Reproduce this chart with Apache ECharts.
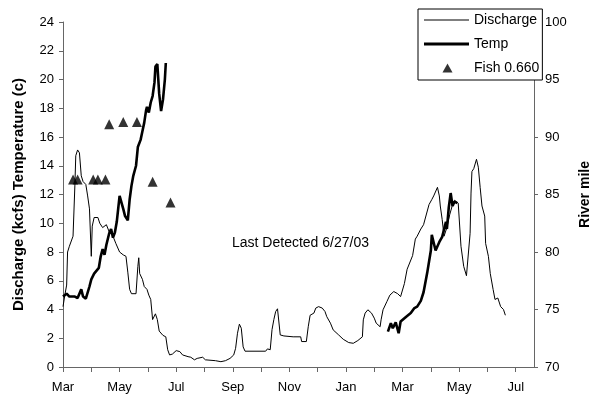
<!DOCTYPE html>
<html><head><meta charset="utf-8">
<script src="https://cdn.jsdelivr.net/npm/echarts@6/dist/echarts.min.js"></script>
<style>html,body{margin:0;padding:0;background:#fff}#c{width:600px;height:400px}</style>
</head><body><div id="c"></div>
<script>
const xTickLabels = ['Mar','May','Jul','Sep','Nov','Jan','Mar','May','Jul'];
const axisStart = '2003-03-01';
const axisEnd = '2004-07-21';

const dischargeDates = [
 '2003-03-01','2003-03-03','2003-03-05','2003-03-06','2003-03-08','2003-03-12','2003-03-14','2003-03-15','2003-03-17','2003-03-19','2003-03-21','2003-03-23','2003-03-26','2003-03-28','2003-03-30',
 '2003-04-01','2003-04-02','2003-04-04','2003-04-08','2003-04-10','2003-04-13','2003-04-17','2003-04-20','2003-04-24','2003-04-27',
 '2003-05-01','2003-05-05','2003-05-08','2003-05-10','2003-05-12','2003-05-14','2003-05-19','2003-05-21','2003-05-22','2003-05-23','2003-05-26','2003-05-28','2003-05-31',
 '2003-06-02','2003-06-04','2003-06-06','2003-06-08','2003-06-09','2003-06-11','2003-06-13','2003-06-17','2003-06-20','2003-06-22','2003-06-24','2003-06-27',
 '2003-07-01','2003-07-05','2003-07-08','2003-07-14','2003-07-17','2003-07-21','2003-07-24','2003-07-30',
 '2003-08-02','2003-08-13','2003-08-19','2003-08-24','2003-08-29',
 '2003-09-02','2003-09-04','2003-09-06','2003-09-08','2003-09-10','2003-09-12','2003-09-14',
 '2003-10-06','2003-10-08','2003-10-11','2003-10-13','2003-10-15','2003-10-17','2003-10-19','2003-10-21','2003-10-22','2003-10-26',
 '2003-11-05','2003-11-13','2003-11-14','2003-11-19','2003-11-21','2003-11-23','2003-11-27','2003-11-29',
 '2003-12-02','2003-12-04','2003-12-06','2003-12-09','2003-12-11','2003-12-15','2003-12-18','2003-12-24','2003-12-29',
 '2004-01-04','2004-01-09','2004-01-14','2004-01-19','2004-01-20','2004-01-22','2004-01-25','2004-01-29',
 '2004-02-01','2004-02-03','2004-02-07','2004-02-08','2004-02-10','2004-02-14','2004-02-17','2004-02-21','2004-02-25','2004-02-28',
 '2004-03-03','2004-03-06','2004-03-12','2004-03-15','2004-03-17','2004-03-21','2004-03-24','2004-03-26','2004-03-30',
 '2004-04-02','2004-04-04','2004-04-08','2004-04-10','2004-04-11','2004-04-13','2004-04-15','2004-04-18','2004-04-21','2004-04-24','2004-04-26','2004-04-30',
 '2004-05-03','2004-05-06','2004-05-09','2004-05-11','2004-05-13','2004-05-14','2004-05-15','2004-05-17','2004-05-20','2004-05-22','2004-05-24','2004-05-26','2004-05-29','2004-05-30',
 '2004-06-02','2004-06-04','2004-06-07','2004-06-09','2004-06-12','2004-06-15','2004-06-18','2004-06-20'
];
const dischargeValues = [
 4.2,5.0,5.7,8.0,8.4,9.1,12.6,14.7,15.1,14.9,13.3,12.9,12.7,11.9,11.0,
 7.7,9.8,10.4,10.4,10.0,9.7,9.9,9.4,9.1,8.6,
 8.0,7.8,7.7,6.6,5.4,5.1,5.1,7.0,7.6,6.5,6.1,5.6,5.4,
 5.0,4.7,3.3,3.2,3.7,3.3,2.5,2.2,2.1,1.2,0.84,0.9,
 1.14,1.07,0.84,0.72,0.68,0.5,0.6,0.68,
 0.5,0.44,0.37,0.44,0.6,
 0.84,1.3,2.35,2.98,2.7,1.4,1.1,
 1.1,1.26,1.2,2.6,3.3,3.86,4.05,4.05,2.23,2.16,
 2.1,2.1,1.77,1.77,2.8,3.6,3.75,4.1,
 4.2,4.3,4.1,3.86,3.5,3.05,2.58,2.23,1.93,
 1.7,1.65,1.84,2.1,3.28,3.75,3.98,3.75,
 3.4,3.05,2.8,3.28,3.98,4.56,5.0,5.25,5.1,4.9,
 5.8,6.8,7.75,8.9,9.1,9.6,9.9,10.0,11.3,
 11.65,11.9,12.5,11.9,11.2,10.26,9.1,9.7,10.6,11.3,11.6,11.4,
 8.4,7.0,6.35,6.4,9.3,12.1,13.6,13.8,14.45,13.9,12.5,11.2,10.5,8.6,
 7.7,6.5,5.4,4.7,4.8,4.2,4.0,3.6
];

const temp2003Dates = [
 '2003-03-01','2003-03-05','2003-03-08','2003-03-14','2003-03-17','2003-03-21','2003-03-23','2003-03-26','2003-03-30',
 '2003-04-01','2003-04-04','2003-04-09','2003-04-11','2003-04-13','2003-04-15','2003-04-17','2003-04-20','2003-04-22','2003-04-24','2003-04-26','2003-04-28',
 '2003-05-01','2003-05-03','2003-05-05','2003-05-07','2003-05-10','2003-05-12','2003-05-14','2003-05-16','2003-05-19','2003-05-21','2003-05-24','2003-05-26','2003-05-28','2003-05-30','2003-05-31',
 '2003-06-02','2003-06-04','2003-06-06','2003-06-08','2003-06-09','2003-06-11','2003-06-13','2003-06-15','2003-06-17','2003-06-19','2003-06-20'
];
const temp2003Values = [
 4.9,5.1,4.9,4.9,4.8,5.4,4.9,4.75,5.6,
 6.1,6.5,6.9,7.7,8.2,7.8,8.5,9.3,9.6,9.0,9.35,10.1,
 11.9,11.9,11.0,10.5,10.2,11.65,12.6,13.3,14.0,15.3,15.8,16.4,17.0,17.85,18.1,
 17.7,18.4,18.85,19.8,20.9,21.07,19.0,17.8,18.6,20.0,21.15
];
const temp2004Dates = [
 '2004-02-15','2004-02-18','2004-02-20','2004-02-23','2004-02-26','2004-02-28',
 '2004-03-05','2004-03-10','2004-03-14','2004-03-17','2004-03-21','2004-03-24','2004-03-28',
 '2004-04-01','2004-04-02','2004-04-06','2004-04-10','2004-04-13','2004-04-17','2004-04-18','2004-04-20','2004-04-22','2004-04-24','2004-04-26','2004-04-29'
];
const temp2004Values = [
 2.46,3.05,2.7,3.1,2.35,3.16,
 3.5,3.75,4.1,4.2,4.6,5.2,6.55,
 8.1,9.2,8.1,8.7,9.05,10.1,9.6,11.1,12.1,11.2,11.5,11.4
];

const fishDates = ['2003-03-12','2003-03-17','2003-04-03','2003-04-08','2003-04-16','2003-04-20','2003-05-05','2003-05-20','2003-06-06','2003-06-25'];
const fishRiverMile = [86.3,86.3,86.3,86.3,86.3,91.1,91.3,91.3,86.1,84.3];

function monthIndex(s){
  const p = s.split('-').map(Number);
  const dim = new Date(p[0], p[1], 0).getDate();
  return (p[0]-2003)*12 + (p[1]-3) + (p[2]-1)/dim;
}
function pairs(dates, vals){ return dates.map((d,i)=>[monthIndex(d), vals[i]]); }

const FONT = 'Liberation Sans';
const thinIcon = 'path://M0,0M45,14M0,6.5L45,6.5L45,7.5L0,7.5Z';
const thickIcon = 'path://M0,0M45,14M0,5.6L45,5.6L45,8.4L0,8.4Z';
const triIcon = 'path://M0,0M45,14M18.5,11.5L23.5,2.5L28.5,11.5Z';

const chart = echarts.init(document.getElementById('c'), null, {renderer:'canvas'});
chart.setOption({
  animation:false,
  backgroundColor:'#fff',
  textStyle:{fontFamily:FONT},
  grid:{left:63,right:65,top:22,bottom:33},
  legend:{
    orient:'vertical', left:418, top:9,
    itemWidth:45, itemHeight:14, itemGap:10,
    padding:[4,3,5,6],
    symbolKeepAspect:true,
    borderColor:'#000', borderWidth:1, backgroundColor:'#fff',
    itemStyle:{borderWidth:0},
    textStyle:{fontFamily:FONT,fontSize:14,color:'#000'},
    data:[
      {name:'Discharge',icon:thinIcon},
      {name:'Temp',icon:thickIcon},
      {name:'Fish 0.660',icon:triIcon}
    ]
  },
  xAxis:{
    type:'value', min:monthIndex(axisStart), max:monthIndex(axisEnd), interval:1,
    axisLine:{show:true,onZero:false,lineStyle:{color:'#666',width:1}},
    axisTick:{show:true,length:5,lineStyle:{color:'#666'}},
    splitLine:{show:false},
    axisLabel:{
      color:'#000',fontSize:13,fontFamily:FONT,margin:14,showMaxLabel:false,
      formatter:function(v){
        const r = Math.round(v);
        if (Math.abs(v-r)>1e-6 || r%2!==0) return '';
        return xTickLabels[r/2] || '';
      }
    }
  },
  yAxis:[
    {
      type:'value', min:0, max:24, interval:2, position:'left',
      name:'Discharge (kcfs) Temperature (c)', nameLocation:'middle', nameGap:37,
      nameTextStyle:{fontWeight:'bold',fontSize:15,color:'#000',fontFamily:FONT},
      axisLine:{show:true,lineStyle:{color:'#666'}},
      axisTick:{show:true,length:4,lineStyle:{color:'#666'}},
      splitLine:{show:false},
      axisLabel:{color:'#000',fontSize:13,fontFamily:FONT,margin:9}
    },
    {
      type:'value', min:70, max:100, interval:5, position:'right',
      name:'River mile', nameLocation:'middle', nameGap:44, nameRotate:90,
      nameTextStyle:{fontWeight:'bold',fontSize:14,color:'#000',fontFamily:FONT},
      axisLine:{show:true,lineStyle:{color:'#666'}},
      axisTick:{show:true,length:4,lineStyle:{color:'#666'}},
      splitLine:{show:false},
      axisLabel:{color:'#000',fontSize:13,fontFamily:FONT,margin:11}
    }
  ],
  graphic:[{
    type:'text', left:232, top:236,
    style:{text:'Last Detected 6/27/03', fill:'#000', font:'14px "Liberation Sans"'}
  }],
  series:[
    {name:'Discharge',type:'line',yAxisIndex:0,showSymbol:false,symbol:'none',
     lineStyle:{color:'#000',width:1},itemStyle:{color:'#000'},
     data:pairs(dischargeDates,dischargeValues)},
    {name:'Temp',type:'line',yAxisIndex:0,showSymbol:false,symbol:'none',
     lineStyle:{color:'#000',width:2.6},itemStyle:{color:'#000'},
     data:pairs(temp2003Dates,temp2003Values)},
    {name:'Temp',type:'line',yAxisIndex:0,showSymbol:false,symbol:'none',
     lineStyle:{color:'#000',width:2.6},itemStyle:{color:'#000'},
     data:pairs(temp2004Dates,temp2004Values)},
    {name:'Fish 0.660',type:'scatter',yAxisIndex:1,symbol:'triangle',symbolSize:10,
     itemStyle:{color:'#000'},
     data:pairs(fishDates,fishRiverMile)}
  ]
});
</script></body></html>
